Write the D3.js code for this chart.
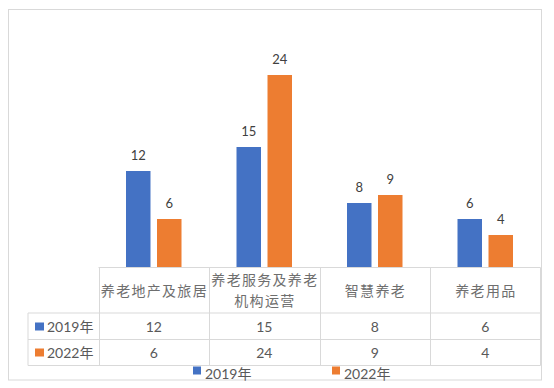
<!DOCTYPE html>
<html><head><meta charset="utf-8">
<script src="https://cdn.jsdelivr.net/npm/d3@7"></script>
<style>
body{margin:0;background:#fff;}
text{font-family:Lato,"Noto Sans CJK SC",sans-serif;}
</style></head>
<body>
<svg id="c" width="554" height="388"></svg>
<script>
const categories = [["养老地产及旅居"], ["养老服务及养老", "机构运营"], ["智慧养老"], ["养老用品"]];
const categoryKeys = ["养老地产及旅居", "养老服务及养老机构运营", "智慧养老", "养老用品"];
const seriesNames = ["2019年", "2022年"];
const values2019 = [12, 15, 8, 6];
const values2022 = [6, 24, 9, 4];
const seriesValues = [values2019, values2022];
const colors = ["#4472C4", "#ED7D31"];

const svg = d3.select("#c");
const grid = "#d9d9d9";
const txt = "#595959";

// outer border
svg.append("rect").attr("x", 8.5).attr("y", 9.5).attr("width", 533).attr("height", 370.5)
  .attr("fill", "#fff").attr("stroke", grid).attr("stroke-width", 1);

const x0 = d3.scaleBand().domain(categoryKeys).range([98.5, 540.5]).padding(0);
const bw = x0.bandwidth();
const x1 = d3.scaleBand().domain(seriesNames).range([bw / 2 - 27.75, bw / 2 + 27.75]).paddingInner(0.21);
const y = d3.scaleLinear().domain([0, 30]).range([267, 27]);

const g = svg.append("g");
seriesNames.forEach((s, si) => {
  g.selectAll(".bar" + si).data(seriesValues[si]).enter().append("rect")
    .attr("x", (d, i) => x0(categoryKeys[i]) + x1(s))
    .attr("y", d => y(d))
    .attr("width", x1.bandwidth())
    .attr("height", d => y(0) - y(d))
    .attr("fill", colors[si]);
  g.selectAll(".lab" + si).data(seriesValues[si]).enter().append("text")
    .attr("x", (d, i) => x0(categoryKeys[i]) + x1(s) + x1.bandwidth() / 2)
    .attr("y", d => y(d) - 11)
    .attr("text-anchor", "middle")
    .attr("font-size", 13).attr("fill", "#404040")
    .text(d => d);
});

// data table
const tLeft = 28, tRight = 540.5;
const rowY = [267.5, 313, 339.5, 365.5];
const lines = svg.append("g").attr("stroke", grid).attr("stroke-width", 1).attr("fill", "none");
lines.append("line").attr("x1", 98.5).attr("x2", tRight).attr("y1", rowY[0]).attr("y2", rowY[0]);
[1, 2, 3].forEach(k => lines.append("line").attr("x1", tLeft).attr("x2", tRight).attr("y1", rowY[k]).attr("y2", rowY[k]));
lines.append("line").attr("x1", tLeft).attr("x2", tLeft).attr("y1", rowY[1]).attr("y2", rowY[3]);
categoryKeys.forEach(k => {
  const xx = Math.round(x0(k)) + 0.5;
  lines.append("line").attr("x1", xx).attr("x2", xx).attr("y1", rowY[0]).attr("y2", rowY[3]);
});
lines.append("line").attr("x1", tRight).attr("x2", tRight).attr("y1", rowY[0]).attr("y2", rowY[3]);

// header labels
categories.forEach((lns, i) => {
  const cx = x0(categoryKeys[i]) + bw / 2;
  const t = svg.append("text").attr("text-anchor", "middle").attr("fill", "#6e6e6e")
    .attr("font-size", 14).attr("letter-spacing", "1.3px")
    .style("font-family", "'Noto Sans CJK SC',sans-serif");
  if (lns.length === 1) {
    t.append("tspan").attr("x", cx + 0.65).attr("y", 296).text(lns[0]);
  } else {
    t.append("tspan").attr("x", cx + 0.65).attr("y", 284.5).text(lns[0]);
    t.append("tspan").attr("x", cx + 0.65).attr("y", 306).text(lns[1]);
  }
});

// rows
const rowCenters = [326.5, 352.5];
seriesNames.forEach((s, si) => {
  svg.append("rect").attr("x", 35).attr("y", rowCenters[si] - 4).attr("width", 9).attr("height", 8).attr("fill", colors[si]);
  svg.append("text").attr("x", 47).attr("y", rowCenters[si] + 5).attr("font-size", 14).attr("fill", txt).text(s);
  seriesValues[si].forEach((v, i) => {
    svg.append("text").attr("x", x0(categoryKeys[i]) + bw / 2).attr("y", rowCenters[si] + 5)
      .attr("text-anchor", "middle").attr("font-size", 14).attr("fill", txt).text(v);
  });
});

// legend
const legX = [193, 332];
seriesNames.forEach((s, si) => {
  svg.append("rect").attr("x", legX[si]).attr("y", 366.5).attr("width", 8).attr("height", 8).attr("fill", colors[si]);
  svg.append("text").attr("x", legX[si] + 12).attr("y", 378.5).attr("font-size", 14).attr("fill", txt).text(s);
});
</script>
</body></html>
